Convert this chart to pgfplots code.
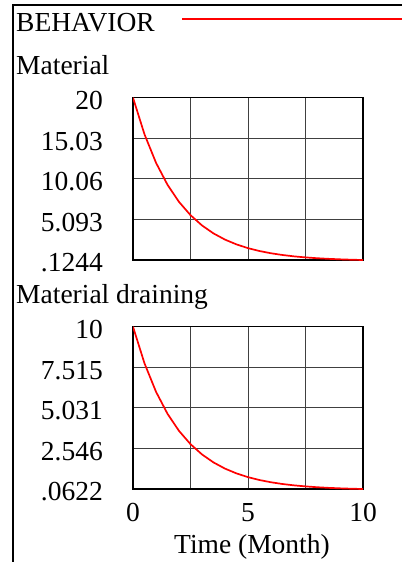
\documentclass[border=0pt]{standalone}
\usepackage{fontspec}
\setmainfont{Liberation Serif}
\usepackage{pgfplots}
\pgfplotsset{compat=1.18}
\begin{document}
\fontsize{27.5bp}{32bp}\selectfont
\begin{tikzpicture}
\path[use as bounding box] (0,0) rectangle (402bp,-562bp);
% frame, cut at the right and bottom edges
\draw[line width=1.3bp] (13bp,-562bp) -- (13bp,-5bp) -- (402bp,-5bp);
\node[anchor=base west, inner sep=0pt] at (16bp,-31.7bp) {BEHAVIOR};
\draw[draw=red, line width=1.8bp] (182bp,-19.3bp) -- (402bp,-19.3bp);
\node[anchor=base west, inner sep=0pt] at (16bp,-74bp) {Material};
\node[anchor=base west, inner sep=0pt] at (16bp,-303bp) {Material draining};

\pgfplotsset{
  every axis/.append style={
    scale only axis, width=230bp, height=162.3bp,
    xmin=0, xmax=10,
    xtick={0,2.5,5,7.5,10},
    grid=major, major grid style={black!75, line width=0.9bp},
    axis line style={line width=1.3bp},
    major tick length=0pt,
    tick label style={font=\fontsize{27.5bp}{32bp}\selectfont},
    yticklabel style={inner sep=0pt, xshift=-30bp, yshift=-3bp},
  },
}

\begin{axis}[
  at={(133bp,-260bp)}, anchor=south west,
  ymin=0.1244, ymax=20,
  ytick={0.1244,5.093,10.06,15.03,20},
  yticklabels={.1244,5.093,10.06,15.03,20},
  xticklabels={},
]
\addplot[red, line width=1.7bp] coordinates {
  (0,20) (0.5,15.515) (1,12.035) (1.5,9.336) (2,7.241) (2.5,5.617)
  (3,4.358) (3.5,3.380) (4,2.622) (4.5,2.034) (5,1.578) (5.5,1.224)
  (6,0.949) (6.5,0.737) (7,0.571) (7.5,0.443) (8,0.344) (8.5,0.267)
  (9,0.207) (9.5,0.160) (10,0.1244)
};
\end{axis}

\begin{axis}[
  at={(133bp,-489bp)}, anchor=south west,
  ymin=0.0622, ymax=10,
  ytick={0.0622,2.546,5.031,7.515,10},
  yticklabels={.0622,2.546,5.031,7.515,10},
  xticklabels={0,,5,,10},
  xticklabel style={inner sep=0pt, anchor=north, yshift=-14bp},
  xlabel={Time (Month)},
  xlabel style={anchor=base, at={(axis description cs:0.5,0)}, yshift=-64bp, xshift=4bp, inner sep=0pt, font=\fontsize{27.5bp}{32bp}\selectfont},
]
\addplot[red, line width=1.7bp] coordinates {
  (0,10) (0.5,7.757) (1,6.018) (1.5,4.668) (2,3.621) (2.5,2.809)
  (3,2.179) (3.5,1.690) (4,1.311) (4.5,1.017) (5,0.789) (5.5,0.612)
  (6,0.475) (6.5,0.368) (7,0.286) (7.5,0.222) (8,0.172) (8.5,0.133)
  (9,0.103) (9.5,0.080) (10,0.0622)
};
\end{axis}
\end{tikzpicture}
\end{document}
